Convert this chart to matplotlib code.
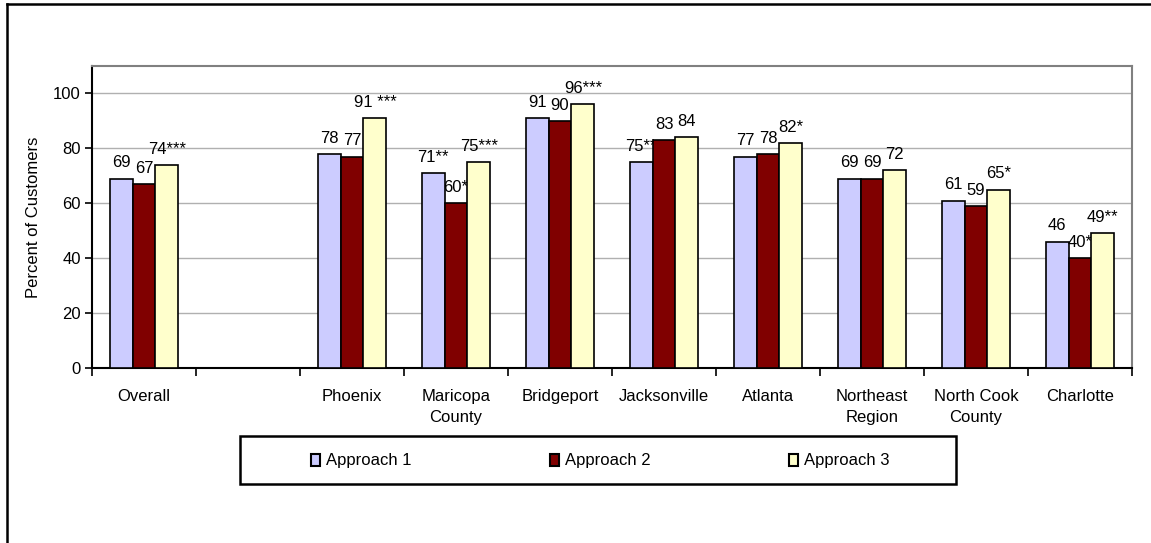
import numpy as np
import matplotlib
matplotlib.use("Agg")
import matplotlib.pyplot as plt
from matplotlib.lines import Line2D
from matplotlib.patches import Rectangle

plt.rcParams['font.family'] = ['Liberation Sans', 'DejaVu Sans']

categories = ['Overall', '', 'Phoenix', 'Maricopa\nCounty', 'Bridgeport', 'Jacksonville',
              'Atlanta', 'Northeast\nRegion', 'North Cook\nCounty', 'Charlotte']
series_names = ['Approach 1', 'Approach 2', 'Approach 3']
approach1 = [69, None, 78, 71, 91, 75, 77, 69, 61, 46]
approach2 = [67, None, 77, 60, 90, 83, 78, 69, 59, 40]
approach3 = [74, None, 91, 75, 96, 84, 82, 72, 65, 49]
labels1 = ['69', '', '78', '71**', '91', '75**', '77', '69', '61', '46']
labels2 = ['67', '', '77', '60*', '90', '83', '78', '69', '59', '40*']
labels3 = ['74***', '', '91 ***', '75***', '96***', '84', '82*', '72', '65*', '49**']
colors = ['#CCCCFF', '#800000', '#FFFFCC']

W, H = 1151, 543
fs = 12

fig = plt.figure(figsize=(W / 100, H / 100), dpi=100)
ax = fig.add_axes([92 / W, 1 - 368 / H, 1040 / W, 302 / H])

x = np.arange(len(categories))
bw = 0.22
series = [approach1, approach2, approach3]
all_labels = [labels1, labels2, labels3]
handles = []
for i, (vals, labs) in enumerate(zip(series, all_labels)):
    idx = [j for j, v in enumerate(vals) if v is not None]
    xs = x[idx] + (i - 1) * bw
    hs = [vals[j] for j in idx]
    bars = ax.bar(xs, hs, width=bw, color=colors[i], edgecolor='black',
                  linewidth=1.2, zorder=3, label=series_names[i])
    handles.append(bars)
    for xx, hh, j in zip(xs, hs, idx):
        ax.annotate(labs[j], (xx, hh), xytext=(0, 6), textcoords='offset points',
                    ha='center', va='bottom', fontsize=fs)

ax.set_xlim(-0.5, len(categories) - 0.5)
ax.set_ylim(0, 110)
ax.set_yticks([0, 20, 40, 60, 80, 100])
ax.yaxis.grid(True, color='#b0b0b0', linewidth=1, zorder=0)
ax.set_axisbelow(True)
ax.tick_params(axis='y', labelsize=fs, length=5, width=1.2, direction='out', pad=3)

ax.set_xticks(np.arange(len(categories) + 1) - 0.5)
ax.set_xticklabels([])
ax.set_xticks(x, minor=True)
ax.set_xticklabels(categories, minor=True, fontsize=fs, linespacing=1.5)
ax.tick_params(axis='x', which='major', length=6, width=1.2, direction='out')
ax.tick_params(axis='x', which='minor', length=0, pad=15)

ax.set_ylabel('Percent of Customers', fontsize=fs, labelpad=9)
for s in ['left', 'bottom']:
    ax.spines[s].set_color('black')
    ax.spines[s].set_linewidth(1.5)
for s in ['top', 'right']:
    ax.spines[s].set_color('#808080')
    ax.spines[s].set_linewidth(1.5)

leg = fig.legend(handles=handles, labels=series_names, ncol=3,
                 loc='center', bbox_to_anchor=(600 / W, 1 - 461 / H),
                 frameon=False, fontsize=fs, columnspacing=8.3,
                 handlelength=0.55, handleheight=0.75, handletextpad=0.35)
for h in leg.legend_handles:
    h.set_linewidth(1.5)

# legend box
fig.add_artist(Rectangle((240 / W, 1 - 484 / H), 716 / W, 48 / H, fill=False,
                         edgecolor='black', linewidth=1.8, transform=fig.transFigure))

# outer border of the chart area (cut off on the right and bottom)
fig.add_artist(Line2D([7 / W, 1], [1 - 4 / H, 1 - 4 / H], color='black',
                      linewidth=1.8, transform=fig.transFigure))
fig.add_artist(Line2D([7 / W, 7 / W], [0, 1 - 4 / H], color='black',
                      linewidth=1.8, transform=fig.transFigure))

fig.savefig('out.png', dpi=100)
plt.close(fig)
